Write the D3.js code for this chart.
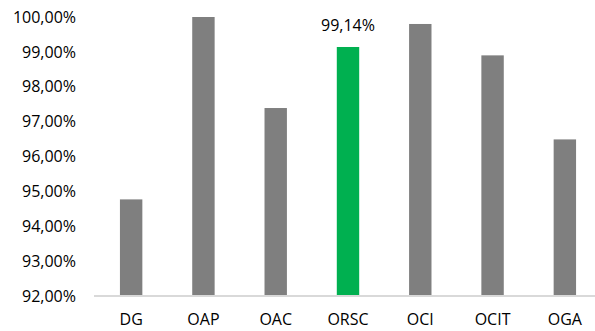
<!DOCTYPE html>
<html>
<head>
<meta charset="utf-8">
<script src="https://cdn.jsdelivr.net/npm/d3@7"></script>
<style>
  html, body { margin: 0; padding: 0; background: #fff; }
  svg { display: block; }
  text { font-family: "Open Sans", sans-serif; fill: #000; }
</style>
</head>
<body>
<svg id="chart" width="595" height="331"></svg>
<script>
// Completion rate by unit
const categories = ["DG", "OAP", "OAC", "ORSC", "OCI", "OCIT", "OGA"];
const values = [94.77, 100.00, 97.39, 99.14, 99.80, 98.90, 96.49];
const highlighted = "ORSC";
const yTicks = [92, 93, 94, 95, 96, 97, 98, 99, 100];

const svg = d3.select("#chart");
const margin = { top: 17, right: -6, bottom: 35, left: 95 };
const width = 595, height = 331;
const fontSize = "16px";

const x = d3.scaleBand()
  .domain(categories)
  .range([margin.left, width - margin.right])
  .paddingInner(0.69)
  .paddingOuter(0.345);

const y = d3.scaleLinear()
  .domain([92, 100])
  .range([height - margin.bottom, margin.top]);

const fmt = v => d3.format(".2f")(v).replace(".", ",") + "%";

// Y axis labels (no axis line, no ticks)
const yAxis = svg.append("g")
  .attr("transform", `translate(${margin.left},0)`)
  .call(d3.axisLeft(y).tickValues(yTicks).tickFormat(fmt).tickSize(0).tickPadding(19));
yAxis.select(".domain").remove();
yAxis.selectAll("text").style("font-size", fontSize).attr("fill", "#000")
  .style("font-family", "'Open Sans', sans-serif");

// Bars
svg.append("g").selectAll("rect")
  .data(categories)
  .join("rect")
  .attr("x", d => x(d))
  .attr("width", x.bandwidth())
  .attr("y", (d, i) => y(values[i]))
  .attr("height", (d, i) => y(92) - y(values[i]))
  .attr("fill", d => d === highlighted ? "#00b050" : "#7f7f7f");

// X axis
const xAxis = svg.append("g")
  .attr("transform", `translate(0,${y(92)})`)
  .call(d3.axisBottom(x).tickSize(0).tickPadding(18));
xAxis.select(".domain").attr("stroke", "#d9d9d9").attr("stroke-width", 2)
  .attr("d", `M${margin.left - 1},0H${width}`);
xAxis.selectAll("text").style("font-size", fontSize).attr("fill", "#000")
  .style("font-family", "'Open Sans', sans-serif");

// Value label on the highlighted bar
const hi = categories.indexOf(highlighted);
svg.append("text")
  .attr("x", x(highlighted) + x.bandwidth() / 2)
  .attr("y", y(values[hi]) - 16)
  .attr("text-anchor", "middle")
  .style("font-size", fontSize)
  .text(fmt(values[hi]));
</script>
</body>
</html>
